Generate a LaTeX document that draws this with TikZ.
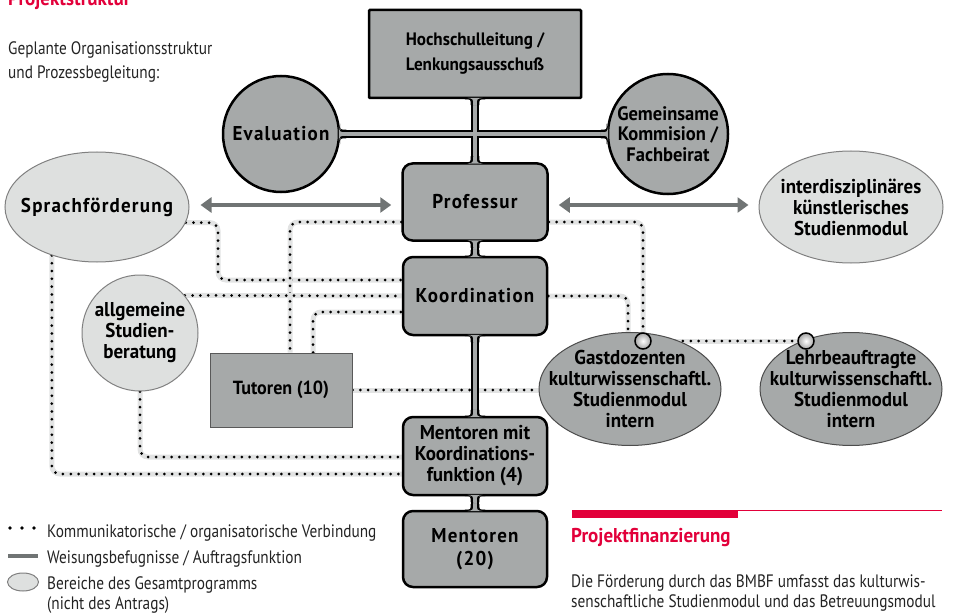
\documentclass[tikz,border=0pt]{standalone}
\usepackage{fontspec}
\setmainfont{PT Sans}[FakeStretch=0.85]
\newfontfamily\fett{PT Sans}[FakeStretch=0.95]
\usetikzlibrary{shapes.geometric,arrows.meta,backgrounds}
\definecolor{kastengrau}{RGB}{166,169,169}
\definecolor{hellgrau}{RGB}{222,224,223}
\definecolor{pfeilgrau}{RGB}{112,116,116}
\definecolor{bandgrau}{RGB}{226,227,227}
\definecolor{rot}{RGB}{226,0,58}
\definecolor{schrift}{RGB}{35,35,35}
\newcommand{\weit}[1]{{\addfontfeature{LetterSpace=6}#1}}
% Hohlkehle zwischen Kasten und Verbindung
\newcommand{\kehle}[2]{%
  \begin{scope}[shift={(#1)}, x=1pt, y=1pt, rotate=#2]
    \fill[black] (0,-10.25) .. controls (0,-4.25) .. (6,-4.25) -- (6,4.25) .. controls (0,4.25) .. (0,10.25) -- cycle;
    \fill[kastengrau] (-1.3,-7.5) .. controls (-0.5,-1.75) .. (6.5,-1.75) -- (6.5,1.75) .. controls (-0.5,1.75) .. (-1.3,7.5) -- cycle;
  \end{scope}}

\begin{document}
\begin{tikzpicture}[x=1pt, y=-1pt, font=\fontsize{18}{22}\selectfont, text=schrift]
\tikzstyle{kasten}=[draw=black, line width=2.5pt, fill=kastengrau, rounded corners=10pt, minimum width=144pt, minimum height=77pt, align=center, text=black, font=\fett\bfseries\fontsize{20}{21}\selectfont]
\tikzstyle{rund}=[kasten, circle, inner sep=-1pt]
\tikzstyle{oval}=[kasten, ellipse, draw=gray!60!black, line width=1pt, inner xsep=-25pt, inner ysep=-12pt]
\tikzstyle{hell}=[oval, fill=hellgrau, draw=gray]
\tikzstyle{knopf}=[circle, draw=black, line width=1.5pt, inner color=white, outer color=gray!70, minimum size=16pt, inner sep=0pt]
\tikzstyle{weis}=[draw=kastengrau, line width=3.5pt, preaction={draw=black, line width=8.5pt}]
\tikzstyle{verb}=[draw=bandgrau, line width=5pt, rounded corners=8pt, postaction={draw=black, line width=3pt, dash pattern=on 0pt off 7.8pt, line cap=round}]
\tikzstyle{pfeil}=[draw=pfeilgrau, line width=4.5pt, arrows={Triangle[length=11pt,width=15pt]-Triangle[length=11pt,width=15pt]}]
\tikzstyle{txt}=[anchor=base west, inner sep=0pt]
\tikzstyle{kopf}=[txt, text=rot, font=\fett\bfseries\fontsize{20}{22}\selectfont]
\useasboundingbox (0,0) rectangle (959,615);

% Ueberschrift
\node[kopf] (titel) at (8,6) {Projektstruktur};
\node[txt] (plan1) at (8,55) {Geplante Organisationsstruktur};
\node[txt] (plan2) at (8,79) {und Prozessbegleitung:};

% Leitung
\node[kasten, rounded corners=1pt, minimum width=212pt, minimum height=88pt, font=\fett\bfseries\fontsize{18}{25}\selectfont] (hsl) at (475,54) {Hochschulleitung /\\Lenkungsausschuß};
\node[rund, minimum size=116pt] (eval) at (281,134) {\weit{Evaluation}};
\node[rund, minimum size=120pt, font=\fett\bfseries\fontsize{19.5}{20.5}\selectfont] (gem) at (668,134) {Gemeinsame\\Kommision /\\Fachbeirat};

% Mittelachse
\node[kasten, minimum width=145pt] (prof) at (475,202) {\weit{Professur}};
\node[kasten, minimum height=78pt] (koord) at (475,296) {\weit{Koordination}};
\node[kasten, minimum height=78pt] (mmk) at (475,456) {Mentoren mit\\Koordinations-\\funktion (4)};
\node[kasten, minimum height=76pt, font=\fett\bfseries\fontsize{20}{23}\selectfont] (ment) at (475,549) {\weit{Mentoren}\\\weit{(20)}};

% Bereiche
\node[hell, minimum width=184pt, minimum height=110pt] (sprach) at (97,207) {\weit{Sprachförderung}};
\node[hell, minimum width=184pt, minimum height=112pt] (inter) at (851,207) {interdisziplinäres\\künstlerisches\\Studienmodul};
\node[rund, fill=hellgrau, draw=gray, line width=1pt, minimum size=116pt] (allg) at (140,333) {allgemeine\\Studien-\\beratung};
\node[kasten, draw=gray!70!black, line width=1pt, rounded corners=0pt, minimum width=142pt, minimum height=74pt, font=\fett\bfseries\fontsize{19}{21}\selectfont] (tut) at (281,390) {Tutoren (10)};
\node[oval, minimum width=182pt, minimum height=113pt] (gast) at (630,389) {Gastdozenten\\kulturwissenschaftl.\\Studienmodul\\intern};
\node[oval, minimum width=182pt, minimum height=113pt] (lehr) at (851,389) {Lehrbeauftragte\\kulturwissenschaftl.\\Studienmodul\\intern};
\node[knopf] (knob1) at (643,341) {};
\node[knopf] (knob2) at (806,341) {};

\draw[pfeil] ([xshift=11pt]sprach.east |- 0,205) -- ([xshift=-10pt]prof.west |- 0,205);
\draw[pfeil] ([xshift=10pt]prof.east |- 0,205) -- ([xshift=-10pt]inter.west |- 0,205);

\begin{scope}[on background layer]
% Kommunikation
\draw[verb] (sprach.-10) -| (218,280) -- (koord.west |- 0,280);
\draw[verb] (prof.west |- 0,222) -| (290,0 |- tut.north);
\draw[verb] (allg.40) -- (koord.west |- 0,296);
\draw[verb] (313,0 |- tut.north) |- (koord.west |- 0,312);
\draw[verb] (tut.east) -- (tut.east -| gast.west);
\draw[verb] (prof.east |- 0,222) -| (knob1.north);
\draw[verb] (koord.east |- 0,296) -| (628,0 |- gast.north);
\draw[verb] (knob1) -- (knob2);
\draw[verb] (allg.south) |- (mmk.west |- 0,457);
\draw[verb] (sprach.227) |- (mmk.west |- 0,474);
% Weisung
\draw[weis] (hsl.south) -- (prof.north) (eval.east) -- (gem.west);
\draw[weis] (prof.south) -- (koord.north);
\draw[weis] (koord.south) -- (mmk.north);
\draw[weis] (mmk.south) -- (ment.north);
\end{scope}

% Kehlen
\kehle{hsl.south}{-90} \kehle{prof.north}{90}
\kehle{prof.south}{-90} \kehle{koord.north}{90}
\kehle{koord.south}{-90} \kehle{mmk.north}{90}
\kehle{mmk.south}{-90} \kehle{ment.north}{90}
\kehle{eval.east}{0} \kehle{gem.west}{180}

% Legende
\coordinate (l1a) at (10,528); \coordinate (l1b) at (35,528);
\draw[black, line width=3.6pt, line cap=round, dash pattern=on 0pt off 12pt] (l1a) -- (l1b);
\node[txt] (leg1) at (47,537) {Kommunikatorische / organisatorische Verbindung};
\coordinate (l2a) at (8,556); \coordinate (l2b) at (38,556);
\draw[pfeilgrau, line width=4pt] (l2a) -- (l2b);
\node[txt] (leg2) at (47,563) {Weisungsbefugnisse / Auftragsfunktion};
\node[hell, inner sep=0pt, minimum width=31pt, minimum height=18pt] (leg3e) at (23,582) {};
\node[txt] (leg3) at (47,589) {Bereiche des Gesamtprogramms};
\node[txt] (leg4) at (47,609) {(nicht des Antrags)};

% Finanzierung
\fill[rot] (572,510) rectangle (738,518);
\draw[rot, line width=1.2pt] (738,510.6) -- (942,510.6);
\node[kopf] (fin) at (571,542) {Projektfinanzierung};
\node[txt] (fin1) at (571,587) {Die Förderung durch das BMBF umfasst das kulturwis-};
\node[txt] (fin2) at (571,607) {senschaftliche Studienmodul und das Betreuungsmodul};
\end{tikzpicture}
\end{document}
